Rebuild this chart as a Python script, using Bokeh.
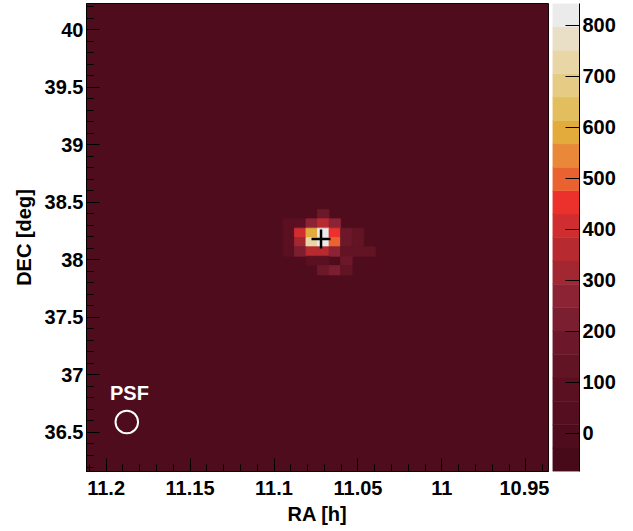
import numpy as np
from bokeh.plotting import figure
from bokeh.layouts import row
from bokeh.models import Range1d, LinearColorMapper, FixedTicker, ColumnDataSource
from bokeh.core.properties import value
from bokeh.embed import file_html
from bokeh.resources import INLINE

# ---------------- data ----------------
ra_min, ra_max = 10.9365, 11.2117       # RA [h], axis drawn reversed
dec_min, dec_max = 36.161, 40.228       # DEC [deg]
n_ra, n_dec = 40, 50                    # bins
z_low, z_high = -75.0, 843.0            # colour scale range
n_levels = 20

palette = ["#470A18", "#4E0C1D", "#540E1F", "#5A1021", "#621425",
           "#6C182A", "#7A1E30", "#8B2335", "#A22731", "#B72A30",
           "#CF2D2F", "#EC312D", "#EB6231", "#E88838", "#E3AA3C",
           "#E3BE5E", "#E6CB84", "#E8D6A6", "#E9DFC6", "#EBEBEB"]

bg_value = 0.0   # background bins (excess ~ 0)

# source excess: row index from top, column index from left, counts
src_rows = [22, 23, 23, 23, 23, 23,
            24, 24, 24, 24, 24, 24, 24,
            25, 25, 25, 25, 25, 25, 25,
            26, 26, 26, 26, 26, 26, 26, 26,
            27, 27, 27,
            28, 28, 28]
src_cols = [20, 17, 18, 19, 20, 21,
            17, 18, 19, 20, 21, 22, 23,
            17, 18, 19, 20, 21, 22, 23,
            17, 18, 19, 20, 21, 22, 23, 24,
            19, 20, 22,
            20, 21, 22]
src_vals = [165, 70, 85, 290, 355, 270,
            75, 410, 590, 820, 450, 170, 120,
            80, 320, 730, 820, 500, 170, 140,
            80, 220, 360, 360, 270, 120, 120, 110,
            80, 80, 200,
            170, 215, 150]

x_ticks = [11.2, 11.15, 11.1, 11.05, 11.0, 10.95]
x_tick_labels = ["11.2", "11.15", "11.1", "11.05", "11", "10.95"]
y_ticks = [36.5, 37.0, 37.5, 38.0, 38.5, 39.0, 39.5, 40.0]
y_tick_labels = ["36.5", "37", "37.5", "38", "38.5", "39", "39.5", "40"]
cbar_ticks = [0, 100, 200, 300, 400, 500, 600, 700, 800]

src_ra, src_dec = 11.072, 38.182
psf_ra, psf_dec, psf_radius = 11.1877, 36.591, 0.098
psf_label_ra, psf_label_dec = 11.1861, 36.843

FONT = "Liberation Sans"
FS = "20px"

# ---------------- grid ----------------
z = np.full((n_dec, n_ra), bg_value)
for r, c, v in zip(src_rows, src_cols, src_vals):
    z[r, c] = v

ra_edges = np.linspace(ra_max, ra_min, n_ra + 1)      # left -> right on screen
dec_edges = np.linspace(dec_max, dec_min, n_dec + 1)  # top -> bottom
L, R, T, B, Z = [], [], [], [], []
for r in range(n_dec):
    for c in range(n_ra):
        if z[r, c] == bg_value:
            continue
        L.append(ra_edges[c]); R.append(ra_edges[c + 1])
        T.append(dec_edges[r]); B.append(dec_edges[r + 1])
        Z.append(z[r, c])
cells = ColumnDataSource(dict(left=L, right=R, top=T, bottom=B, z=Z))
bg = ColumnDataSource(dict(left=[ra_max], right=[ra_min], top=[dec_max],
                           bottom=[dec_min], z=[bg_value]))

mapper = LinearColorMapper(palette=palette, low=z_low, high=z_high)

# ---------------- main figure ----------------
p = figure(width=549, height=531, output_backend="svg", toolbar_location=None,
           x_range=Range1d(ra_max, ra_min), y_range=Range1d(dec_min, dec_max),
           min_border_left=86, min_border_right=1, min_border_top=3, min_border_bottom=60)
p.background_fill_color = "white"
p.border_fill_color = "white"
p.outline_line_color = "black"
p.outline_line_width = 1
p.grid.visible = False

p.quad(left="left", right="right", top="top", bottom="bottom", source=bg,
       fill_color={"field": "z", "transform": mapper}, line_color=None)
p.quad(left="left", right="right", top="top", bottom="bottom", source=cells,
       fill_color={"field": "z", "transform": mapper},
       line_color={"field": "z", "transform": mapper}, line_width=0.8)

p.scatter(x=[src_ra], y=[src_dec], marker="cross", size=19,
          line_color="black", line_width=2.5)
p.circle(x=[psf_ra], y=[psf_dec], radius=psf_radius, radius_dimension="y",
         fill_alpha=0, line_color="white", line_width=2)
p.text(x=[psf_label_ra], y=[psf_label_dec], text=["PSF"], text_color="white",
       text_font=value(FONT), text_font_style="bold", text_font_size=FS,
       text_align="center", text_baseline="middle")

minor_x = [round(v, 3) for v in np.arange(10.94, 11.215, 0.01)]
minor_y = [round(v, 2) for v in np.arange(36.2, 40.25, 0.1)]
p.xaxis.ticker = FixedTicker(ticks=x_ticks, minor_ticks=minor_x)
p.yaxis.ticker = FixedTicker(ticks=y_ticks, minor_ticks=minor_y)
p.xaxis.major_label_overrides = {t: s for t, s in zip(x_ticks, x_tick_labels)}
p.yaxis.major_label_overrides = {t: s for t, s in zip(y_ticks, y_tick_labels)}

for ax in (p.xaxis, p.yaxis):
    ax.axis_line_color = "black"
    ax.major_tick_in = 13
    ax.major_tick_out = 0
    ax.minor_tick_in = 7
    ax.minor_tick_out = 0
    ax.major_tick_line_color = "black"
    ax.minor_tick_line_color = "black"
    ax.major_label_text_font = FONT
    ax.major_label_text_font_style = "bold"
    ax.major_label_text_font_size = FS
    ax.major_label_text_color = "black"
    ax.axis_label_text_font = FONT
    ax.axis_label_text_font_style = "bold"
    ax.axis_label_text_font_size = FS
    ax.axis_label_text_color = "black"

p.xaxis.axis_label = "RA [h]"
p.yaxis.axis_label = "DEC [deg]"
p.xaxis.major_label_standoff = 9
p.yaxis.major_label_standoff = 3
p.xaxis.axis_label_standoff = 5
p.yaxis.axis_label_standoff = 7

# ---------------- colour bar ----------------
levels = np.linspace(z_low, z_high, n_levels + 1)
cb = figure(width=84, height=531, output_backend="svg", toolbar_location=None,
            x_range=Range1d(0, 1), y_range=Range1d(z_low, z_high),
            x_axis_location=None, y_axis_location="right",
            min_border_left=3, min_border_right=54, min_border_top=3, min_border_bottom=60)
cb.outline_line_color = None
cb.grid.visible = False
cb.background_fill_color = "white"
cb.border_fill_color = "white"
cb.quad(left=0, right=1, bottom=levels[:-1], top=levels[1:],
        fill_color=palette, line_color=palette, line_width=0.5)
ya = cb.yaxis[0]
ya.ticker = FixedTicker(ticks=cbar_ticks, minor_ticks=[])
ya.axis_line_color = "black"
ya.major_tick_in = 14
ya.major_tick_out = 0
ya.minor_tick_line_color = None
ya.major_tick_line_color = "black"
ya.major_label_text_font = FONT
ya.major_label_text_font_style = "bold"
ya.major_label_text_font_size = FS
ya.major_label_text_color = "black"
ya.major_label_standoff = 3

layout = row(p, cb, spacing=0)
open("out.html", "w").write(file_html(layout, INLINE))
